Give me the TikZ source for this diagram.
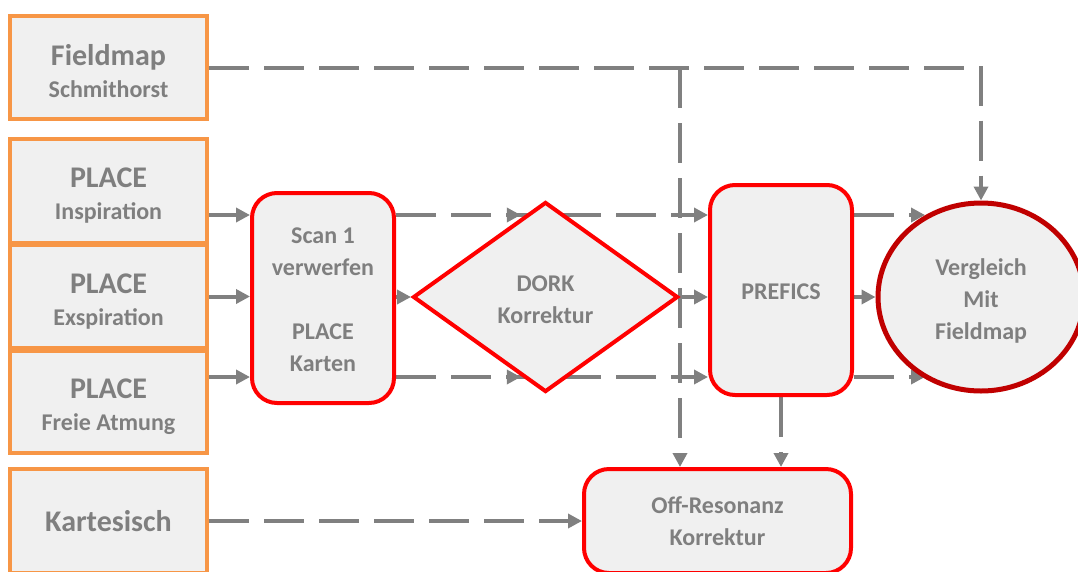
\documentclass[tikz,border=0pt]{standalone}
\usepackage{fontspec}
\setmainfont{Carlito}
\usetikzlibrary{shapes.geometric,arrows.meta,calc,backgrounds,decorations.markings}
\definecolor{boxfill}{HTML}{F0F0F0}
\definecolor{orangeb}{HTML}{F79646}
\definecolor{redb}{HTML}{FF0000}
\definecolor{darkredb}{HTML}{C00000}
\definecolor{linegray}{HTML}{808080}
\definecolor{textgray}{HTML}{7F7F7F}
\tikzset{
  base/.style={fill=boxfill, text=textgray, font=\bfseries\fontsize{24}{32}\selectfont, align=center, inner sep=0pt},
  srcbox/.style={base, draw=orangeb, line width=4pt, minimum width=197pt, minimum height=104pt},
  procbox/.style={base, draw=redb, line width=4pt, rounded corners=25pt},
  conn/.style={draw=linegray, line width=4pt, -{Triangle[length=14pt,width=14pt]}},
  dconn/.style={conn, dash pattern=on 40pt off 15pt},
  midtip/.style={postaction={decorate}, decoration={markings, mark=at position #1 with {\arrow{Triangle[length=14pt,width=14pt]}}}}
}
\newcommand{\bigt}[1]{{\fontsize{30}{32}\selectfont #1}}
\newcommand{\tup}[1]{\rule{0pt}{#1}}
\begin{document}
\begin{tikzpicture}[x=1pt,y=-1pt]
\useasboundingbox (0,0) rectangle (1078,571);
\clip (0,0) rectangle (1078,571);

\node[srcbox, minimum height=103pt] (fm) at (108.5,67.5) {\tup{28pt}\bigt{Fieldmap}\\Schmithorst};
\node[srcbox] (insp) at (108.5,191) {\tup{29pt}\bigt{PLACE}\\Inspiration};
\node[srcbox, minimum height=103pt] (exsp) at (108.5,296.5) {\tup{29pt}\bigt{PLACE}\\Exspiration};
\node[srcbox, minimum height=102pt] (frei) at (108.5,402) {\tup{29pt}\bigt{PLACE}\\Freie Atmung};
\node[srcbox] (kart) at (108.5,521) {\bigt{Kartesisch}};

\node[procbox, minimum width=142pt, minimum height=210pt] (scan) at (323,298) {\tup{20pt}Scan 1\\verwerfen\\\mbox{}\\PLACE\\Karten};
\node[base, diamond, draw=redb, line width=4pt, minimum width=265pt, minimum height=190pt] (dork) at (545.5,297) {\tup{22pt}DORK\\Korrektur};
\node[procbox, minimum width=142pt, minimum height=210pt] (prefics) at (781,290) {\tup{20pt}PREFICS};
\node[base, ellipse, draw=darkredb, line width=5pt, minimum width=206pt, minimum height=188pt] (verg) at (981,297) {\tup{25pt}Vergleich\\Mit\\Fieldmap};
\node[procbox, minimum width=267pt, minimum height=104pt] (off) at (717.5,521) {Off-Resonanz\\Korrektur};

\coordinate (ya) at (0,215);
\coordinate (yc) at (0,377);
\coordinate (jn) at (680,68);

\begin{scope}[on background layer]
\fill[white] (0,0) rectangle (1078,571);
\draw[dconn] (fm.east) -- (fm.east -| verg.north) -- (verg.north);
\draw[dconn] (jn) -- (jn |- off.north);
\draw[conn] (insp.east |- ya) -- (scan.west |- ya);
\draw[conn] (exsp.east) -- (scan.west |- exsp.east);
\draw[conn] (frei.east |- yc) -- (scan.west |- yc);
\draw[dconn, midtip=0.40] (scan.east |- ya) -- (prefics.west |- ya);
\draw[dconn, midtip=0.40] (scan.east |- yc) -- (prefics.west |- yc);
\draw[conn] (scan.east |- dork.west) -- (dork.west);
\draw[conn] (dork.east) -- (prefics.west |- dork.east);
\draw[conn] (prefics.east |- verg.west) -- (verg.west);
\draw[dconn] (prefics.east |- ya) -- ($(verg.center)+(-56,-82)$);
\draw[dconn] (prefics.east |- yc) -- ($(verg.center)+(-56,80)$);
\draw[dconn] (prefics.south) -- (prefics.south |- off.north);
\draw[dconn] (kart.east |- off.west) -- (off.west);
\end{scope}
\end{tikzpicture}
\end{document}
